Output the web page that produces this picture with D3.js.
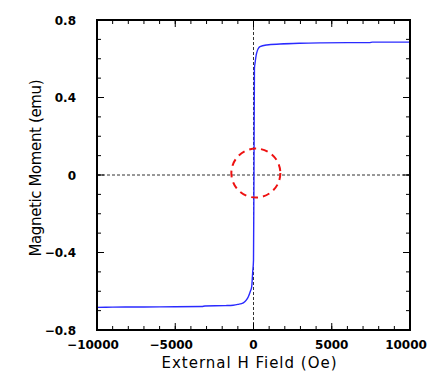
<!DOCTYPE html>
<html>
<head>
<meta charset="utf-8">
<script src="https://cdn.jsdelivr.net/npm/d3@7"></script>
<style>
body { margin:0; background:white; }
.tick-label { font-family:"DejaVu Sans", sans-serif; font-weight:bold; font-size:12px; fill:black; }
.title { font-family:"DejaVu Sans", sans-serif; font-size:15px; fill:black; }
</style>
</head>
<body>
<svg id="graph1"></svg>
<script>
// hysteresis loop, field in Oe and moment in emu
var fieldOe = [-10000,-9000,-7000,-5000,-3300,-3100,-1800,-1300,-1000,-650,-450,-330,-200,-115,-50,0,
               30,60,100,204,415,843,1693,2971,4249,6000,7400,7600,10000]
var momentEmu = [-0.683,-0.682,-0.681,-0.680,-0.679,-0.676,-0.674,-0.672,-0.668,-0.660,-0.645,-0.628,-0.600,-0.577,-0.50,-0.44,
                 0.0,0.55,0.578,0.630,0.662,0.671,0.676,0.680,0.682,0.683,0.683,0.686,0.686]

var xTicks = [-10000,-5000,0,5000,10000]
var yTicks = [-0.8,-0.4,0,0.4,0.8]
var xMinor = d3.range(-10000,10001,1000)
var yMinor = d3.range(-8,9,1).map(function(d){ return d/10 })

// dashed red circle marking the origin
var markH = [150]
var markM = [0.01]

var screen = {width:429,height:372}
var margins = {left:97,right:19,top:20,bottom:42}
var graph1 = {
    width:screen.width-margins.left-margins.right,
    height:screen.height-margins.top-margins.bottom
}

var svg = d3.select("#graph1")
    .attr("width",screen.width)
    .attr("height",screen.height)

var xScale = d3.scaleLinear().domain([-10000,10000]).range([margins.left,margins.left+graph1.width])
var yScale = d3.scaleLinear().domain([-0.8,0.8]).range([margins.top+graph1.height,margins.top])

var yfmt = function(d)
{
    if (d==0) return "0"
    return d3.format(".1f")(d).replace("-","\u2212")
}
var xfmt = function(d)
{
    return String(d).replace("-","\u2212")
}

// zero lines
svg.append("line")
    .attr("x1",xScale(-10000)).attr("x2",xScale(10000))
    .attr("y1",yScale(0)).attr("y2",yScale(0))
    .attr("stroke","#333").attr("stroke-width",1).attr("stroke-dasharray","3,2")
svg.append("line")
    .attr("x1",xScale(0)).attr("x2",xScale(0))
    .attr("y1",yScale(-0.8)).attr("y2",yScale(0.8))
    .attr("stroke","#333").attr("stroke-width",1).attr("stroke-dasharray","3,2")

// curve
var pts = fieldOe.map(function(h,i){ return [h,momentEmu[i]] })
var line = d3.line()
    .x(function(d){ return xScale(d[0]) })
    .y(function(d){ return yScale(d[1]) })
    .curve(d3.curveMonotoneX)
svg.append("path")
    .datum(pts)
    .attr("d",line)
    .attr("fill","none")
    .attr("stroke","#2a2aff")
    .attr("stroke-width",1.4)

// circle
svg.selectAll(".mark")
    .data(markH)
    .enter()
    .append("circle")
    .attr("cx",function(d){ return xScale(d) })
    .attr("cy",function(d,i){ return yScale(markM[i]) })
    .attr("r",24.5)
    .attr("fill","none")
    .attr("stroke","#ee1111")
    .attr("stroke-width",2)
    .attr("stroke-dasharray","7,5")

// ticks, inward on all four sides
var drawXTicks = function(vals,len)
{
    svg.selectAll(null).data(vals).enter().append("line")
        .attr("x1",function(d){ return xScale(d) }).attr("x2",function(d){ return xScale(d) })
        .attr("y1",yScale(-0.8)).attr("y2",yScale(-0.8)-len)
        .attr("stroke","black").attr("stroke-width",1)
    svg.selectAll(null).data(vals).enter().append("line")
        .attr("x1",function(d){ return xScale(d) }).attr("x2",function(d){ return xScale(d) })
        .attr("y1",yScale(0.8)).attr("y2",yScale(0.8)+len)
        .attr("stroke","black").attr("stroke-width",1)
}
var drawYTicks = function(vals,len)
{
    svg.selectAll(null).data(vals).enter().append("line")
        .attr("y1",function(d){ return yScale(d) }).attr("y2",function(d){ return yScale(d) })
        .attr("x1",xScale(-10000)).attr("x2",xScale(-10000)+len)
        .attr("stroke","black").attr("stroke-width",1)
    svg.selectAll(null).data(vals).enter().append("line")
        .attr("y1",function(d){ return yScale(d) }).attr("y2",function(d){ return yScale(d) })
        .attr("x1",xScale(10000)).attr("x2",xScale(10000)-len)
        .attr("stroke","black").attr("stroke-width",1)
}
drawXTicks(xMinor,4)
drawXTicks(xTicks,7)
drawYTicks(yMinor,4)
drawYTicks(yTicks,7)

// frame
svg.append("rect")
    .attr("x",margins.left).attr("y",margins.top)
    .attr("width",graph1.width).attr("height",graph1.height)
    .attr("fill","none").attr("stroke","black").attr("stroke-width",2)

// tick labels
svg.selectAll(".xl").data(xTicks).enter().append("text")
    .classed("tick-label",true)
    .attr("x",function(d){
        if (d<0) return xScale(d)-4
        if (d==10000) return xScale(d)-4
        return xScale(d)
    })
    .attr("y",349)
    .attr("text-anchor","middle")
    .text(xfmt)
svg.selectAll(".yl").data(yTicks).enter().append("text")
    .classed("tick-label",true)
    .attr("x",76)
    .attr("y",function(d){ return yScale(d)+4.5 })
    .attr("text-anchor","end")
    .text(yfmt)

// axis titles
svg.append("text")
    .classed("title",true)
    .attr("x",249).attr("y",368)
    .attr("text-anchor","middle")
    .attr("textLength",175)
    .text("External H Field (Oe)")
svg.append("g")
    .attr("transform","translate(41,"+168+")")
    .append("text")
    .classed("title",true)
    .attr("text-anchor","middle")
    .attr("textLength",177)
    .attr("transform","rotate(270)")
    .text("Magnetic Moment (emu)")
</script>
</body>
</html>
